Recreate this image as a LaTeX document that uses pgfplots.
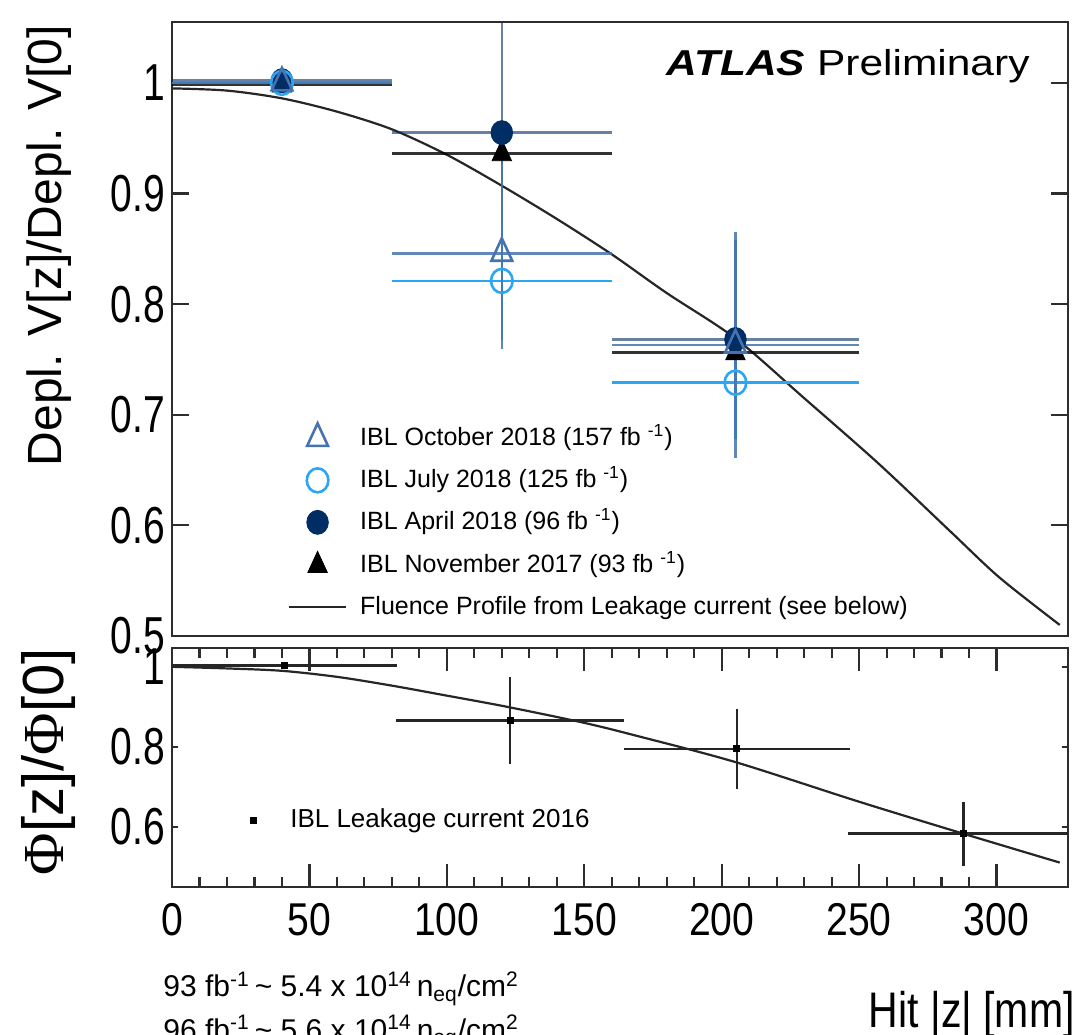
\documentclass[border=0pt]{standalone}
\usepackage{fontspec}
\setmainfont{Liberation Sans}
\newfontfamily\seriffont{Liberation Serif}
\usepackage{pgfplots}
\pgfplotsset{compat=1.18}

\definecolor{octc}{RGB}{70,115,175}
\definecolor{julc}{RGB}{45,165,245}
\definecolor{aprc}{RGB}{0,45,100}
\definecolor{framec}{RGB}{45,45,45}

\pgfplotsset{
  atl/.style={
    scale only axis, width=448pt, xmin=0, xmax=326,
    axis line style={framec, line width=1.3pt},
    tick style={framec, line width=1.1pt},
    tick align=inside,
    ytick pos=both,
    yticklabel style={font=\fontsize{26}{26}\selectfont, inner sep=0pt, anchor=east, xshift=-3.5pt, xscale=0.75},
  },
  ebar/.style={error bars/.cd, x dir=both, x explicit, y dir=both, y explicit,
    error mark=none, error bar style={line width=1.3pt, #1}},
}

\begin{document}
\begin{tikzpicture}
\useasboundingbox (-86pt,-199pt) rectangle (460pt,318pt);

% upper panel: depletion voltage ratio
\begin{axis}[atl, name=top, at={(0,0)}, anchor=south west,
  height=307pt, ymin=0.5, ymax=1.055,
  xtick=\empty,
  ytick={0.5,0.6,0.7,0.8,0.9,1}, yticklabels={0.5,0.6,0.7,0.8,0.9,1},
  major tick length=8.5pt,
  reverse legend,
  legend image code/.code={\draw[mark repeat=2,mark phase=2,#1] plot coordinates {(0pt,0pt) (14.25pt,0pt) (28.5pt,0pt)}; \path (35pt,0pt);},
  legend style={draw=none, fill=none, at={(axis description cs:0.129,0.347)}, anchor=north west,
    inner sep=0pt, row sep=8pt, cells={anchor=west},
    nodes={inner sep=0pt, text height=10pt, text depth=3pt, font=\fontsize{12.5}{15}\selectfont}},
]
\addplot[black!85, line width=1.1pt, smooth] coordinates {
  (0,0.995) (20,0.993) (40,0.986) (60,0.974) (80,0.958) (100,0.935)
  (120,0.907) (140,0.877) (160,0.845) (180,0.810) (205,0.769) (230,0.715)
  (257,0.656) (283,0.595) (301,0.553) (323,0.510)
};
\addlegendentry{Fluence Profile from Leakage current (see below)}

\addplot[only marks, mark=triangle*, mark size=7pt, mark options={xscale=0.8, fill=black, draw=black},
  ebar={black, opacity=0.8}]
  coordinates {(40,0.998) +- (40,0) (120,0.936) +- (40,0) (205,0.756) +- (45,0)};
\addlegendentry{IBL November 2017 (93 fb~\textsuperscript{-1})}

\addplot[only marks, mark=*, mark size=6pt, mark options={xscale=0.9, fill=aprc, draw=aprc},
  ebar={aprc, opacity=0.6}]
  coordinates {(40,1.002) +- (40,0) (120,0.955) +- (40,0.11) (205,0.768) +- (45,0.09)};
\addlegendentry{IBL April 2018 (96 fb~\textsuperscript{-1})}

\addplot[only marks, mark=o, mark size=6pt, mark options={xscale=0.9, draw=julc, line width=1.3pt},
  ebar={julc}]
  coordinates {(40,1.0) +- (40,0) (120,0.821) +- (40,0.053) (205,0.729) +- (45,0.05)};
\addlegendentry{IBL July 2018 (125 fb~\textsuperscript{-1})}

\addplot[only marks, mark=triangle, mark size=7.5pt, mark options={xscale=0.8, draw=octc, line width=1.3pt},
  ebar={octc, opacity=0.85}]
  coordinates {(40,1.0) +- (40,0) (120,0.846) +- (40,0.087) (205,0.763) +- (45,0.102)};
\addlegendentry{IBL October 2018 (157 fb~\textsuperscript{-1})}
\end{axis}

% lower panel: fluence ratio
\begin{axis}[atl, name=bot, at={(0,-6pt)}, anchor=north west,
  height=119.5pt, ymin=0.45, ymax=1.047,
  xtick={0,50,100,150,200,250,300}, xticklabels={0,50,100,150,200,250,300},
  minor x tick num=4, xtick pos=both,
  xtick style={/pgfplots/major tick length=11.5pt, /pgfplots/minor tick length=5pt},
  ytick style={/pgfplots/major tick length=3pt},
  xticklabel style={font=\fontsize{23}{23}\selectfont, inner sep=0pt, anchor=north, yshift=-8pt, xscale=0.85},
  ytick={0.6,0.8,1}, yticklabels={0.6,0.8,1},
  legend image code/.code={\draw[mark repeat=2,mark phase=2,#1] plot coordinates {(0pt,0pt) (14.25pt,0pt) (28.5pt,0pt)}; \path (32.75pt,0pt);},
  legend style={draw=none, fill=none, at={(axis description cs:0.0865,0.335)}, anchor=north west,
    inner sep=0pt, cells={anchor=west},
    nodes={inner sep=0pt, text height=10pt, text depth=3pt, font=\fontsize{13}{15}\selectfont}},
]
\addplot[black!85, line width=1.1pt, smooth, forget plot] coordinates {
  (0,1.0) (20,0.996) (40,0.99) (60,0.975) (80,0.953) (100,0.928) (122,0.90)
  (150,0.86) (170,0.826) (205,0.762) (250,0.663) (288,0.583) (323,0.511)
};
\addplot[only marks, mark=square*, mark size=1.5pt, black,
  ebar={black!85}]
  coordinates {(41,1.003) +- (41,0) (123,0.866) +- (41.5,0.108)
               (205.5,0.795) +- (41,0.10) (288,0.583) +- (42,0.08)};
\addlegendentry{IBL Leakage current 2016}
\end{axis}

\node[rotate=90, anchor=base east, font=\fontsize{24}{24}\selectfont] at (-55pt,309pt) {Depl. V[z]/Depl. V[0]};
\node[rotate=90, anchor=base east, font=\fontsize{29}{29}\selectfont, inner sep=0pt] at (-54pt,-6pt) {{\seriffont Φ}[z]/{\seriffont Φ}[0]};
\node[anchor=base east, font=\fontsize{18}{18}\selectfont, xscale=1.18, inner sep=0pt] at (429pt,280pt) {\textbf{\textit{ATLAS}} Preliminary};
\node[anchor=base east, font=\fontsize{25}{25}\selectfont, xscale=0.82, inner sep=0pt] at (451.5pt,-195.5pt) {Hit |z| [mm]};
\node[anchor=base west, font=\fontsize{15}{15}\selectfont, inner sep=0pt] at (-4.5pt,-180.4pt)
  {93 fb\textsuperscript{-1}\,\textasciitilde{} 5.4 x 10\textsuperscript{14}\,n\textsubscript{eq}/cm\textsuperscript{2}};
\node[anchor=base west, font=\fontsize{15}{15}\selectfont, inner sep=0pt] at (-4.5pt,-202pt)
  {96 fb\textsuperscript{-1}\,\textasciitilde{} 5.6 x 10\textsuperscript{14}\,n\textsubscript{eq}/cm\textsuperscript{2}};
\end{tikzpicture}
\end{document}
